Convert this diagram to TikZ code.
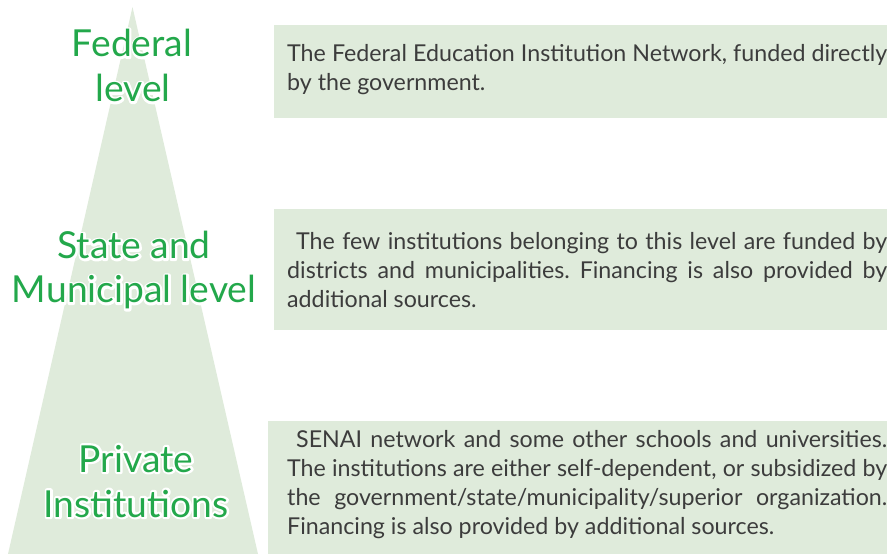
\documentclass[tikz,border=0pt]{standalone}
\usepackage{fontspec}
\setmainfont{Lato}
\frenchspacing
\definecolor{paleg}{HTML}{DFEBDB}
\definecolor{labg}{HTML}{23A84B}
\definecolor{bodyc}{HTML}{3C3C3C}
\newlength\reflen
\newlength\labreflen
\newcommand\halolabel[4]{%
  \node[lab,text=white] at (#2,#3) {\special{pdf:code 1 Tr 4.4 w 1 j 1 1 1 RG}#4\special{pdf:code 0 Tr}};
  \node[lab] (#1) at (#2,#3) {#4};}
\begin{document}
\settowidth\reflen{\fontsize{20bp}{24bp}\selectfont The institutions are either self-dependent, or subsidized by}%
\settowidth\labreflen{\fontsize{36bp}{40bp}\selectfont Municipal level}%
\pgfmathsetmacro\bsz{20*598/(\reflen/1.00375)}%
\pgfmathsetmacro\lsz{36*244/(\labreflen/1.00375)}%
\begin{tikzpicture}[x=1bp,y=-1bp]
\tikzset{
  lab/.style={anchor=base,inner sep=0pt,text=labg,font=\fontsize{\lsz bp}{45bp}\selectfont},
  bodyline/.style={anchor=base west,inner sep=0pt,text=bodyc,font=\fontsize{\bsz bp}{29bp}\selectfont},
  panel/.style={fill=paleg,draw=none},
}
\useasboundingbox (0,0) rectangle (887,554);
\clip (0,0) rectangle (887,554);
% pyramid
\fill[paleg] (132.5,7) -- (258,554) -- (8,554) -- cycle;
% panels
\fill[panel] (274,25) rectangle (900,118);
\fill[panel] (274,209) rectangle (900,330);
\fill[panel] (268,421) rectangle (900,560);
% labels
\halolabel{f1}{132}{57}{Federal}
\halolabel{f2}{133}{102}{level}
\halolabel{s1}{134}{259}{State and}
\halolabel{s2}{134}{303}{Municipal level}
\halolabel{p1}{136}{472}{Private}
\halolabel{p2}{136}{517}{Institutions}
% body text
\node[bodyline] (a1) at (287,62) {\makebox[600bp][s]{The Federal Education Institution Network, funded directly}};
\node[bodyline] (a2) at (287,91) {by the government.};
\node[bodyline] (b1) at (287,250) {\makebox[600bp][s]{\hspace*{9bp}The few institutions belonging to this level are funded by}};
\node[bodyline] (b2) at (287,279) {\makebox[600bp][s]{districts and municipalities. Financing is also provided by}};
\node[bodyline] (b3) at (287,308) {additional sources.};
\node[bodyline] (c1) at (287,447) {\makebox[600bp][s]{\hspace*{9bp}SENAI network and some other schools and universities.}};
\node[bodyline] (c2) at (287,476) {\makebox[600bp][s]{The institutions are either self-dependent, or subsidized by}};
\node[bodyline] (c3) at (287,505) {\makebox[600bp][s]{the government/state/municipality/superior organization.}};
\node[bodyline] (c4) at (287,534) {Financing is also provided by additional sources.};
\end{tikzpicture}
\end{document}
